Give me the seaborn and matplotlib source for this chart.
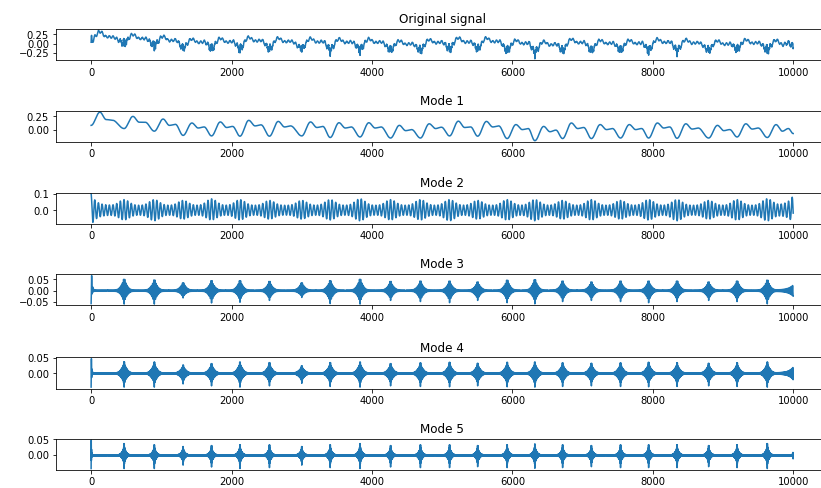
import numpy as np
import matplotlib
matplotlib.use("Agg")
import matplotlib.pyplot as plt
import seaborn as sns

# ---- data -------------------------------------------------------------
n_samples = 10000
titles = ["Original signal", "Mode 1", "Mode 2", "Mode 3", "Mode 4", "Mode 5"]

# beat onsets (sample index)
beats = np.array([0, 470, 900, 1310, 1715, 2120, 2540, 3000, 3405, 3830, 4265,
                  4690, 5105, 5505, 5925, 6320, 6715, 7125, 7540, 7940, 8345,
                  8795, 9200, 9630])

# Mode 1: level at each beat, then peak / valley / bump within the beat
m1_dip = [0.08, 0.02, -0.03, -0.11, -0.12, -0.125, -0.125, -0.12, -0.15, -0.14,
          -0.16, -0.16, -0.12, -0.125, -0.17, -0.21, -0.17, -0.17, -0.16, -0.16,
          -0.165, -0.16, -0.14, -0.15]
m1_peak = [0.33, 0.25, 0.20, 0.125, 0.145, 0.175, 0.155, 0.145, 0.13, 0.13,
           0.08, 0.11, 0.16, 0.155, 0.095, 0.06, 0.125, 0.095, 0.095, 0.125,
           0.11, 0.08, 0.11, 0.094]
m1_valley = [0.19, 0.14, 0.08, 0.03, 0.04, 0.07, 0.05, 0.04, 0.03, 0.03, -0.02,
             0.02, 0.04, 0.05, 0.0, -0.04, 0.02, 0.0, 0.0, 0.03, 0.01, -0.02,
             0.01, -0.03]
m1_bump = [0.18, 0.14, 0.10, 0.05, 0.06, 0.09, 0.07, 0.06, 0.05, 0.05, 0.0,
           0.045, 0.05, 0.07, 0.02, -0.01, 0.04, 0.02, 0.02, 0.05, 0.03, 0.0,
           0.03, 0.02]
m1_end = -0.075

# Modes 2-5: upper / lower burst envelope at each beat
m2_top = [0.0, 0.035, 0.035, 0.03, 0.04, 0.035, 0.03, 0.03, 0.035, 0.04, 0.035,
          0.035, 0.035, 0.03, 0.035, 0.035, 0.03, 0.035, 0.03, 0.035, 0.035,
          0.03, 0.035, 0.04]
m2_bot = [0.0, 0.03, 0.035, 0.025, 0.03, 0.03, 0.025, 0.025, 0.03, 0.035, 0.03,
          0.03, 0.035, 0.025, 0.03, 0.035, 0.025, 0.03, 0.025, 0.03, 0.035,
          0.025, 0.03, 0.035]
m3_top = [0.0, 0.06, 0.056, 0.04, 0.052, 0.052, 0.048, 0.04, 0.052, 0.06, 0.048,
          0.05, 0.05, 0.045, 0.055, 0.058, 0.05, 0.045, 0.05, 0.05, 0.05, 0.045,
          0.05, 0.055]
m3_bot = [0.0, 0.056, 0.056, 0.029, 0.051, 0.048, 0.04, 0.027, 0.054, 0.056, 0.04,
          0.045, 0.05, 0.04, 0.05, 0.055, 0.045, 0.04, 0.045, 0.05, 0.045, 0.04,
          0.045, 0.055]
m4_top = [0.0, 0.044, 0.043, 0.031, 0.037, 0.043, 0.041, 0.028, 0.041, 0.043, 0.037,
          0.04, 0.042, 0.038, 0.042, 0.043, 0.04, 0.038, 0.04, 0.042, 0.04, 0.038,
          0.04, 0.043]
m4_bot = [0.0, 0.041, 0.041, 0.031, 0.037, 0.041, 0.037, 0.029, 0.039, 0.041, 0.037,
          0.039, 0.04, 0.037, 0.04, 0.041, 0.039, 0.037, 0.039, 0.04, 0.039, 0.037,
          0.039, 0.041]
m5_top = [0.0, 0.045, 0.04, 0.033, 0.037, 0.04, 0.04, 0.033, 0.04, 0.045, 0.037,
          0.04, 0.04, 0.037, 0.04, 0.043, 0.04, 0.037, 0.04, 0.04, 0.04, 0.037,
          0.04, 0.045]
m5_bot = [0.0, 0.041, 0.041, 0.03, 0.036, 0.041, 0.038, 0.03, 0.038, 0.041, 0.036,
          0.038, 0.038, 0.035, 0.038, 0.04, 0.038, 0.035, 0.038, 0.038, 0.038, 0.035,
          0.038, 0.041]

# transient peaks at the start and the end of each mode (top, bottom)
m2_start, m2_end = (0.07, 0.045), (0.06, 0.045)
m3_start, m3_end = (0.062, 0.054), (0.022, 0.022)
m4_start, m4_end = (0.0445, 0.041), (0.018, 0.018)
m5_start, m5_end = (0.0465, 0.041), (0.012, 0.012)

# ---- waveform assembly -----------------------------------------------
t = np.arange(n_samples, dtype=float)
nearest_beat = beats[np.argmin(np.abs(t[:, None] - beats[None, :]), axis=1)]


def eased(knot_t, knot_v, x):
    """Smooth cosine-eased curve through the given turning points."""
    knot_t = np.asarray(knot_t, float)
    knot_v = np.asarray(knot_v, float)
    i = np.clip(np.searchsorted(knot_t, x, side="right") - 1, 0, len(knot_t) - 2)
    s = (x - knot_t[i]) / (knot_t[i + 1] - knot_t[i])
    w = (1 - np.cos(np.pi * s)) / 2
    return knot_v[i] + (knot_v[i + 1] - knot_v[i]) * w


def burst_mode(tops, bots, period, floor, start, end, tau0, tau1,
               body=0.5, sigma=40, lam=10, locked=True):
    """Oscillation whose envelope swells around every beat.

    The swell is a broad gaussian body plus a sharp exponential spike."""
    d = t[:, None] - beats[None, :]
    k = body * np.exp(-0.5 * (d / sigma) ** 2) + (1 - body) * np.exp(-np.abs(d) / lam)
    e0 = np.exp(-t / tau0)
    e1 = np.exp(-(n_samples - 1 - t) / tau1)
    # the first half-cycle after t=0 is reached half a period later
    late = np.exp(period / (2 * tau0))
    s_up, s_dn = (start[0] * late, start[1]) if locked else (start[0], start[1] * late)
    up = floor + k @ np.asarray(tops) + s_up * e0 + end[0] * e1
    dn = floor + k @ np.asarray(bots) + s_dn * e0 + end[1] * e1
    if locked:
        # oscillation phase anchored on the nearest beat (trough at the beat)
        c = -np.cos(2 * np.pi * (t - nearest_beat) / period)
    else:
        c = np.cos(2 * np.pi * t / period)
    return np.where(c >= 0, up * c, dn * c)


knots_t, knots_v = [], []
for i, b in enumerate(beats):
    knots_t += [b, b + 125, b + 215, b + 300]
    knots_v += [m1_dip[i], m1_peak[i], m1_valley[i], m1_bump[i]]
knots_t.append(n_samples - 1)
knots_v.append(m1_end)
mode1 = eased(knots_t, knots_v, t)

mode2 = burst_mode(m2_top, m2_bot, 52, 0.03, m2_start, m2_end, 70, 80,
                   body=1.0, sigma=70, locked=False)
mode3 = burst_mode(m3_top, m3_bot, 16, 0.003, m3_start, m3_end, 10, 70,
                   body=0.45, sigma=45, lam=16)
mode4 = burst_mode(m4_top, m4_bot, 8, 0.002, m4_start, m4_end, 6, 60,
                   body=0.45, sigma=40, lam=8)
mode5 = burst_mode(m5_top, m5_bot, 4, 0.0015, m5_start, m5_end, 4, 6,
                   body=0.35, sigma=28, lam=5)
original = mode1 + mode2 + mode3 + mode4 + mode5

series = [original, mode1, mode2, mode3, mode4, mode5]

# ---- figure -----------------------------------------------------------
W, H = 821, 488
fig = plt.figure(figsize=((W + 0.3) / 72, (H + 0.3) / 72), dpi=72)
left_px, width_px, height_px = 56, 772, 31.3
tops_px = [29.2, 111.0, 192.7, 274.3, 357.3, 438.7]

for title, y, top in zip(titles, series, tops_px):
    ax = fig.add_axes([left_px / W, 1 - (top + height_px) / H,
                       width_px / W, height_px / H])
    sns.lineplot(x=t, y=y, ax=ax, color="#1f77b4", linewidth=1.5,
                 estimator=None, sort=False)
    ax.set_title(title)
    ax.set_xlabel("")
    ax.set_ylabel("")
    ax.set_xticks([0, 2000, 4000, 6000, 8000, 10000])

fig.savefig("out.png", dpi=72, facecolor="white")
